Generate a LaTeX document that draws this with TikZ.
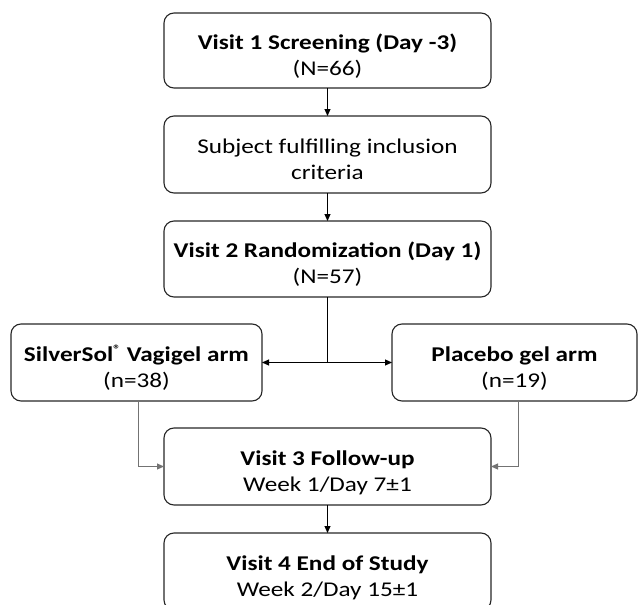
\documentclass[tikz,border=0pt]{standalone}
\usepackage{fontspec}
\setmainfont{Carlito}[FakeStretch=1.2]
\usetikzlibrary{arrows.meta,calc}
\newcommand\boxtxt[1]{\raisebox{-6.5pt}[\height][\depth]{\begin{tabular}{@{}c@{}}#1\end{tabular}}}
\tikzset{
  box/.style={draw=black!85, line width=1.1pt, rounded corners=10pt,
    inner sep=0pt, outer sep=0pt, font=\fontsize{21}{26}\selectfont},
  arr/.style={line width=0.9pt, -{Triangle[length=7pt,width=6pt]}},
  garr/.style={arr, draw=black!55},
  lin/.style={line width=0.9pt}
}
\begin{document}
\begin{tikzpicture}[x=1pt,y=-1pt]
\useasboundingbox (0,0) rectangle (638,605);
\clip (0,0) rectangle (638,605);
\node[box, minimum width=327pt, minimum height=75pt] (b1) at (327.5,50.5) {\boxtxt{\textbf{Visit 1 Screening (Day -3)}\\(N=66)}};
\node[box, minimum width=327pt, minimum height=77pt] (b2) at (327.5,154.5) {\boxtxt{Subject fulfilling inclusion\\criteria}};
\node[box, minimum width=327pt, minimum height=76pt] (b3) at (327.5,259) {\boxtxt{\textbf{Visit 2 Randomization (Day 1)}\\(N=57)}};
\node[box, minimum width=251pt, minimum height=77pt] (L) at (136.5,362.5) {\boxtxt{\textbf{SilverSol\textsuperscript{\large®} Vagigel arm}\\(n=38)}};
\node[box, minimum width=245pt, minimum height=77pt] (R) at (514.5,362.5) {\boxtxt{\textbf{Placebo gel arm}\\(n=19)}};
\node[box, minimum width=327pt, minimum height=77pt] (b4) at (327.5,466.5) {\boxtxt{\textbf{Visit 3 Follow-up}\\Week 1/Day 7±1}};
\node[box, minimum width=327pt, minimum height=77pt] (b5) at (327.5,571.5) {\boxtxt{\textbf{Visit 4 End of Study}\\Week 2/Day 15±1}};
\coordinate (split) at (327.5,362.5);
\draw[arr] (b1.south) -- (b2.north);
\draw[arr] (b2.south) -- (b3.north);
\draw[lin] (b3.south) -- (split);
\draw[arr] (split) -- (L.east);
\draw[arr] (split) -- (R.west);
\draw[garr] ([xshift=1.5pt]L.south) |- (b4.west);
\draw[garr] ([xshift=3.5pt]R.south) |- (b4.east);
\draw[arr] (b4.south) -- (b5.north);
\end{tikzpicture}
\end{document}
